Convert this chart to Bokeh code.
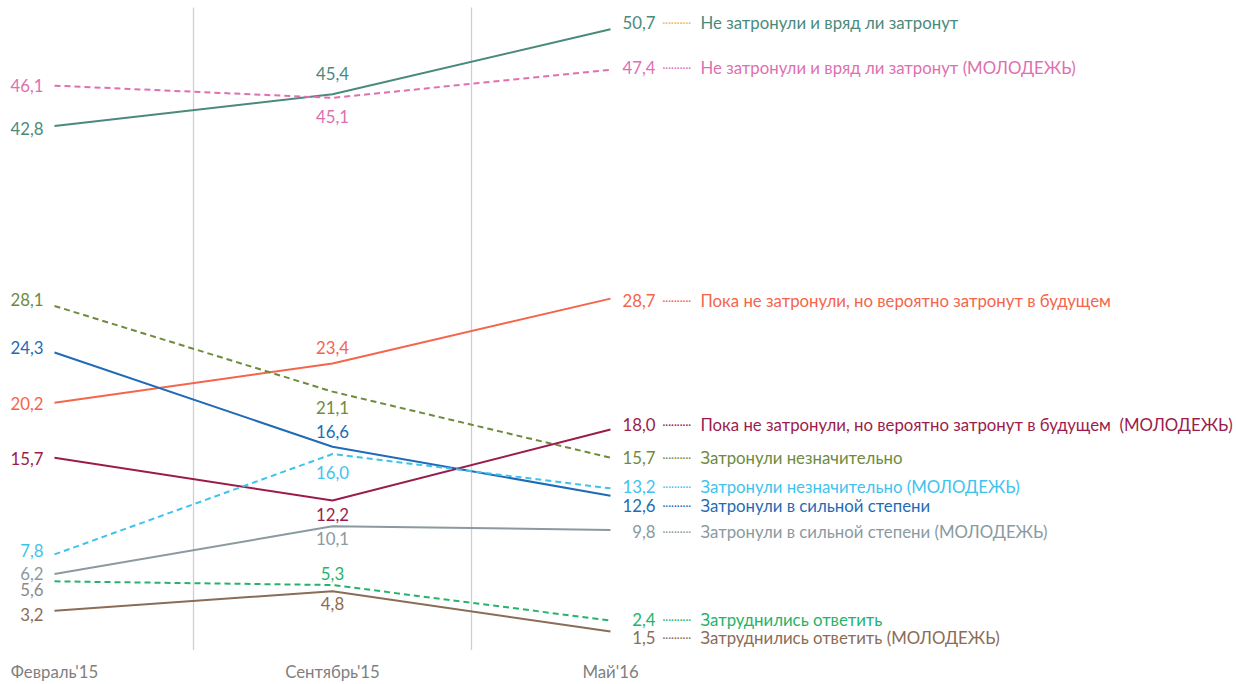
from bokeh.plotting import figure
from bokeh.models import Range1d, ColumnDataSource
from bokeh.core.properties import value
from bokeh.embed import file_html
from bokeh.resources import INLINE

# ---------------- data ----------------
periods = ["Февраль'15", "Сентябрь'15", "Май'16"]

ne_zatronuli = [42.8, 45.4, 50.7]
ne_zatronuli_mol = [46.1, 45.1, 47.4]
poka_ne = [20.2, 23.4, 28.7]
neznach = [28.1, 21.1, 15.7]
silno = [24.3, 16.6, 12.6]
poka_ne_mol = [15.7, 12.2, 18.0]
neznach_mol = [7.8, 16.0, 13.2]
silno_mol = [6.2, 10.1, 9.8]
zatrud = [5.6, 5.3, 2.4]
zatrud_mol = [3.2, 4.8, 1.5]

series_names = [
    "Не затронули и вряд ли затронут",
    "Не затронули и вряд ли затронут (МОЛОДЕЖЬ)",
    "Пока не затронули, но вероятно затронут в будущем",
    "Затронули незначительно",
    "Затронули в сильной степени",
    "Пока не затронули, но вероятно затронут в будущем\u00a0 (МОЛОДЕЖЬ)",
    "Затронули незначительно (МОЛОДЕЖЬ)",
    "Затронули в сильной степени (МОЛОДЕЖЬ)",
    "Затруднились ответить",
    "Затруднились ответить (МОЛОДЕЖЬ)",
]
series_values = [ne_zatronuli, ne_zatronuli_mol, poka_ne, neznach, silno,
                 poka_ne_mol, neznach_mol, silno_mol, zatrud, zatrud_mol]

# ---------------- styles ----------------
colors = ["#4a8a7c", "#e06fb1", "#f4654b", "#6e8b3d", "#1f6bb6",
          "#9b1c4c", "#3fc3ec", "#8a9a9f", "#25b36a", "#8b6c55"]
dashed = [False, True, False, True, False, False, True, False, True, False]
left_colors = list(colors)
left_colors[8] = "#8a8a8a"
conn_colors = list(colors)
conn_colors[0] = "#f5b335"
# pixel offsets (screen, positive = down) for labels, per series
left_dy = [2, 0, 1, -6, -5, 1, -4, -1, 8, 4]
mid_dy = [-21, 19, -16, 16, -15, 14, 18, 12, -12, 12]
right_dy = [-7, -2, 2, 0, 10, -5, -2, 2, -1, 6]

FONT = "Lato"
FS = "16.8px"
W, H = 1236, 684
PX_X = 278.0
X0 = -54 / PX_X
PX_Y = 12.24
Y1 = 649.4 / PX_Y

p = figure(width=W, height=H, output_backend="svg", toolbar_location=None,
           x_range=Range1d(X0, X0 + W / PX_X), y_range=Range1d(Y1 - H / PX_Y, Y1),
           x_axis_type=None, y_axis_type=None, min_border=0,
           outline_line_color=None)
p.grid.visible = False

xs = list(range(len(periods)))

# vertical separators
for gx in [0.5, 1.5]:
    p.line([gx, gx], [0, Y1 - 7 / PX_Y], line_color="#cfcfcf", line_width=1.3)

# lines
for vals, c, d in zip(series_values, colors, dashed):
    p.line(xs, vals, line_color=c, line_width=2,
           line_dash="6 4" if d else "solid")

def fmt(v):
    return f"{v:.1f}".replace(".", ",")

# left labels
src_l = ColumnDataSource(dict(
    x=[xs[0]] * len(series_values), y=[v[0] for v in series_values],
    t=[fmt(v[0]) for v in series_values], c=left_colors, dy=left_dy))
p.text("x", "y", text="t", source=src_l, text_color="c", x_offset=-11,
       y_offset="dy", text_align="right", text_baseline="middle",
       text_font=value(FONT), text_font_size=FS)

# middle labels
src_m = ColumnDataSource(dict(
    x=[xs[1]] * len(series_values), y=[v[1] for v in series_values],
    t=[fmt(v[1]) for v in series_values], c=colors, dy=mid_dy))
p.text("x", "y", text="t", source=src_m, text_color="c",
       y_offset="dy", text_align="center", text_baseline="middle",
       text_font=value(FONT), text_font_size=FS)

# right labels: value, dotted connector, name
src_r = ColumnDataSource(dict(
    x=[xs[2]] * len(series_values), y=[v[2] for v in series_values],
    t=[fmt(v[2]) for v in series_values], n=series_names, c=colors,
    cc=conn_colors, dy=right_dy))
p.text("x", "y", text="t", source=src_r, text_color="c", x_offset=45,
       y_offset="dy", text_align="right", text_baseline="middle",
       text_font=value(FONT), text_font_size=FS)
p.text("x", "y", text="n", source=src_r, text_color="c", x_offset=90,
       y_offset="dy", text_align="left", text_baseline="middle",
       text_font=value(FONT), text_font_size=FS)
p.text("x", "y", text=value("··········"), source=src_r, text_color="cc",
       x_offset=52, y_offset="dy", text_align="left", text_baseline="middle",
       text_font=value(FONT), text_font_size="11px")

# category labels
p.text(xs, [Y1 - 671 / PX_Y] * len(xs), text=periods, text_color="#7f7f7f",
       text_align="center", text_baseline="middle",
       text_font=value(FONT), text_font_size=FS)

open("out.html", "w").write(file_html(p, INLINE))
